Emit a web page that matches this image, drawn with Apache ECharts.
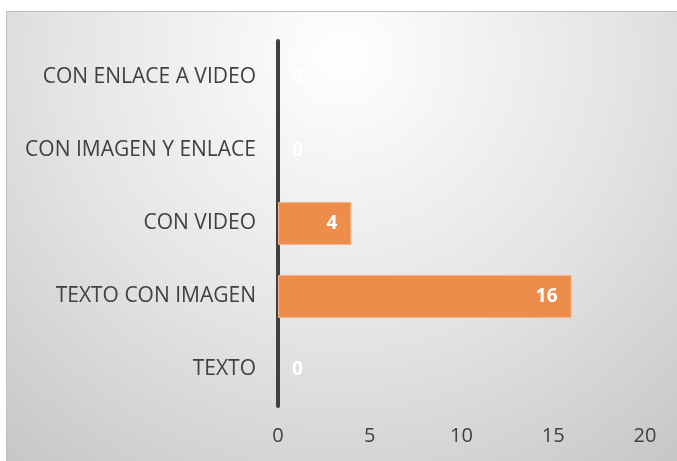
<!DOCTYPE html>
<html>
<head>
<meta charset="utf-8">
<script src="https://cdn.jsdelivr.net/npm/echarts@6/dist/echarts.min.js"></script>
<style>
  html, body { margin: 0; padding: 0; background: #fff; }
  #chart { width: 677px; height: 461px; }
</style>
</head>
<body>
<div id="chart"></div>
<script>
const categories = ['TEXTO', 'TEXTO CON IMAGEN', 'CON VIDEO', 'CON IMAGEN Y ENLACE', 'CON ENLACE A VIDEO']
const values = [0, 16, 4, 0, 0]
const xTicks = [0, 5, 10, 15, 20]

const chart = echarts.init(document.getElementById('chart'))

// zero bars get their label just right of the axis, like the original
const barData = values.map(v => v === 0
  ? { value: v, itemStyle: { borderWidth: 0 }, label: { position: 'right', distance: 14 } }
  : v)

chart.setOption({
  animation: false,
  graphic: [
    {
      type: 'rect',
      left: 6,
      top: 11,
      z: -10,
      shape: { width: 671, height: 450 },
      style: {
        fill: new echarts.graphic.RadialGradient(0.5, 0.1, 1.25, [
          { offset: 0, color: '#ffffff' },
          { offset: 0.5, color: '#e4e4e4' },
          { offset: 1, color: '#c2c2c2' }
        ]),
        stroke: '#bfbfbf',
        lineWidth: 1
      }
    }
  ],
  grid: {
    left: 278,
    right: 32,
    top: 41,
    bottom: 55
  },
  xAxis: {
    type: 'value',
    min: xTicks[0],
    max: xTicks[xTicks.length - 1],
    interval: 5,
    axisLine: { show: false },
    axisTick: { show: false },
    splitLine: { show: false },
    axisLabel: {
      color: '#404040',
      fontSize: 20,
      fontFamily: 'Open Sans, sans-serif',
      margin: 20
    }
  },
  yAxis: {
    type: 'category',
    data: categories,
    axisLine: { show: true, lineStyle: { color: '#404040', width: 4 } },
    axisTick: { show: false },
    axisLabel: {
      color: '#404040',
      fontSize: 21,
      fontFamily: 'Open Sans, sans-serif',
      margin: 22
    }
  },
  series: [
    {
      type: 'bar',
      data: barData,
      barCategoryGap: '41%',
      itemStyle: {
        color: '#ed8d4b',
        borderColor: '#f5b58a',
        borderWidth: 1
      },
      label: {
        show: true,
        position: 'insideRight',
        color: '#ffffff',
        fontWeight: 'bold',
        fontSize: 19,
        fontFamily: 'Open Sans, sans-serif',
        distance: 14
      }
    }
  ]
})
</script>
</body>
</html>
